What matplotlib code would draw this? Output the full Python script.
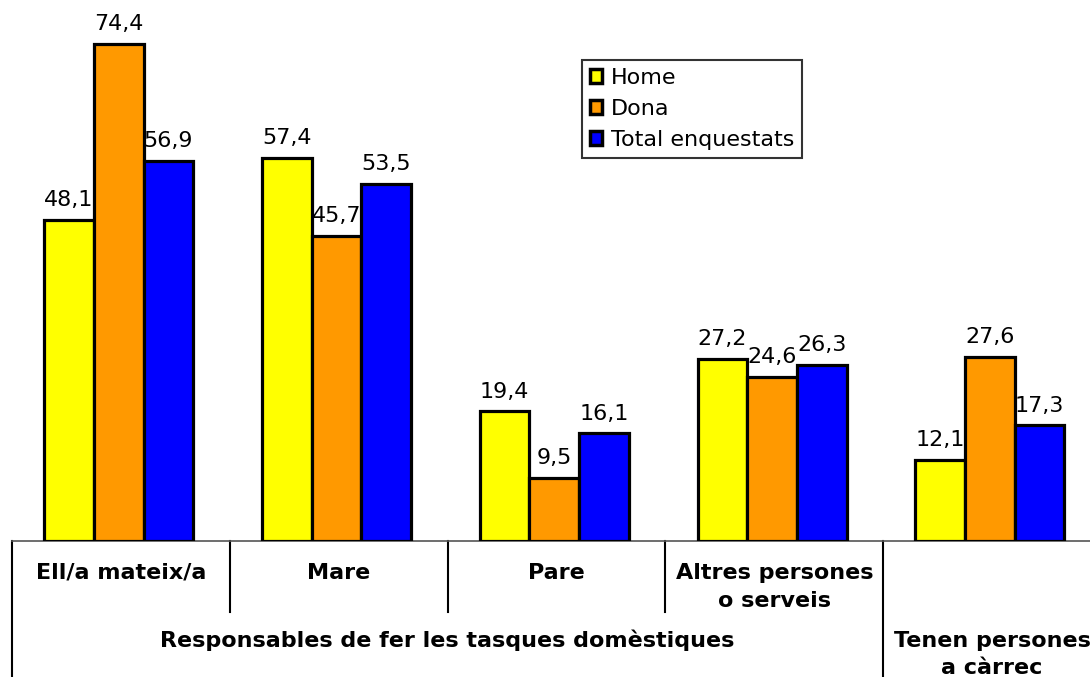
import matplotlib
matplotlib.use("Agg")
import matplotlib.pyplot as plt
from matplotlib.patches import Patch
import numpy as np

# ---- data ----
categories = ["Ell/a mateix/a", "Mare", "Pare", "Altres persones\no serveis", ""]
series_names = ["Home", "Dona", "Total enquestats"]
home = [48.1, 57.4, 19.4, 27.2, 12.1]
dona = [74.4, 45.7, 9.5, 24.6, 27.6]
total = [56.9, 53.5, 16.1, 26.3, 17.3]
groups = ["Responsables de fer les tasques domèstiques", "Tenen persones\na càrrec"]

colors = ["#FFFF00", "#FF9900", "#0000FF"]

plt.rcParams["font.family"] = ["DejaVu Sans"]

W, H = 1090, 677
fig = plt.figure(figsize=(W / 100, H / 100), dpi=100)
base_px = 541
left_px, right_px = 12, 1101
ax = fig.add_axes([left_px / W, (H - base_px) / H, (right_px - left_px) / W, base_px / H])

x = np.arange(len(categories))
bw = 0.228
for i, (vals, c) in enumerate(zip([home, dona, total], colors)):
    pos = x + (i - 1) * bw - 0.01
    ax.bar(pos, vals, width=bw, color=c, edgecolor="black", linewidth=2.3, zorder=3)
    for p, v in zip(pos, vals):
        ax.annotate(f"{v:.1f}".replace(".", ","), (p, v), xytext=(0, 10),
                    textcoords="offset points", ha="center", va="baseline", fontsize=16, zorder=4)

ax.set_xlim(-0.5, 4.5)
ax.set_ylim(0, base_px / 6.68)
for s in ["top", "right", "left"]:
    ax.spines[s].set_visible(False)
ax.spines["bottom"].set_color("#555555")
ax.spines["bottom"].set_linewidth(1.2)
ax.set_xticks([])
ax.set_yticks([])

# table-style category axis below the plot
tr = ax.get_xaxis_transform()


def ypx(p):
    # pixel row in the figure -> axes fraction
    return -(p - base_px) / base_px


for b in [-0.5, 3.5]:
    ax.plot([b, b], [0, ypx(H)], color="black", lw=1.5, transform=tr, clip_on=False)
for b in [0.5, 1.5, 2.5]:
    ax.plot([b, b], [0, ypx(612)], color="black", lw=1.5, transform=tr, clip_on=False)

for xi, lab in zip(x, categories):
    for k, line in enumerate(lab.split("\n")):
        if line:
            ax.text(xi, ypx(579 + 28 * k), line, transform=tr, ha="center", va="baseline",
                    fontsize=16, fontweight="bold")
ax.text(1.5, ypx(647), groups[0], transform=tr, ha="center", va="baseline",
        fontsize=16, fontweight="bold")
for k, line in enumerate(groups[1].split("\n")):
    ax.text(4.0, ypx(647 + 27 * k), line, transform=tr, ha="center", va="baseline",
            fontsize=16, fontweight="bold")

handles = [Patch(facecolor=c, edgecolor="black", linewidth=2.5) for c in colors]
leg = fig.legend(handles, series_names, loc="upper left",
                 bbox_to_anchor=(582 / W, 1 - 60 / H), fontsize=16, frameon=True,
                 fancybox=False, handlelength=0.55, handleheight=0.55, handletextpad=0.4,
                 labelspacing=0.5, borderpad=0.35, borderaxespad=0)
leg.get_frame().set_edgecolor("black")
leg.get_frame().set_linewidth(1.5)

fig.savefig("out.png", dpi=100)
